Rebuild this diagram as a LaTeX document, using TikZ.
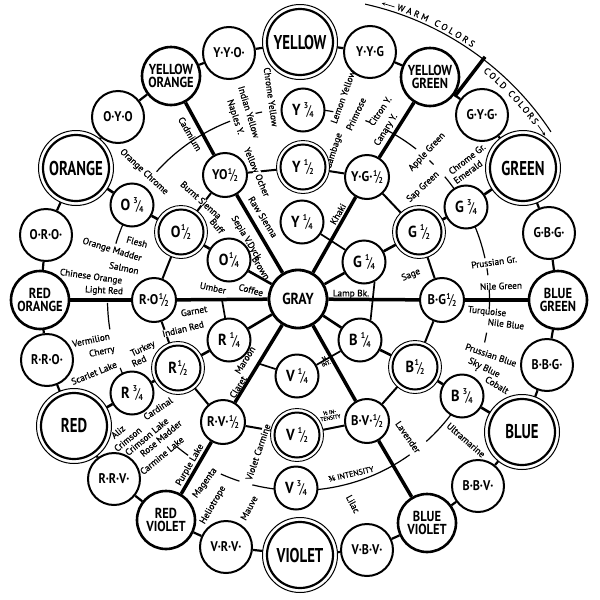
\documentclass[tikz,border=0pt]{standalone}
\usepackage{fontspec}
\setmainfont{PT Sans}
\newfontfamily\capA[FakeStretch=0.74]{PT Sans}
\newfontfamily\capB[FakeStretch=0.86]{PT Sans}
\newfontfamily\capC[FakeStretch=0.9]{PT Sans}
\newfontfamily\labf[FakeBold=0.9]{PT Sans}
\newcommand\myfr[2]{\kern0.5pt\raisebox{0.42em}{\fontsize{8.5}{8.5}\selectfont #1}\kern-1.6pt{\fontsize{14}{14}\selectfont\mdseries /}\kern-1.6pt\raisebox{-0.12em}{\fontsize{8.5}{8.5}\selectfont #2}}
\usetikzlibrary{calc,decorations.text,arrows.meta}
\pgfdeclarelayer{ringl}\pgfdeclarelayer{labl}\pgfdeclarelayer{spkl}
\pgfsetlayers{ringl,labl,spkl,main}
\tikzset{
  prim/.style={circle, draw, line width=2.2pt, fill=white, minimum size=66pt, inner sep=0pt, font=\capA\bfseries\fontsize{20}{20}\selectfont},
  inter/.style={circle, draw, line width=2.6pt, fill=white, minimum size=58pt, inner sep=0pt, align=center, font=\capB\bfseries\fontsize{14.5}{12.5}\selectfont},
  tert/.style={circle, draw, line width=2pt, fill=white, minimum size=52pt, inner sep=0pt, font=\capB\bfseries\fontsize{14}{14}\selectfont},
  grayc/.style={circle, draw, line width=2.8pt, fill=white, minimum size=58pt, inner sep=0pt, font=\capB\bfseries\fontsize{16}{16}\selectfont},
  halfc/.style={circle, draw, line width=2pt, fill=white, minimum size=44pt, inner sep=0pt, font=\capC\bfseries\fontsize{14}{14}\selectfont},
  qtr/.style={circle, draw, line width=2pt, fill=white, minimum size=43pt, inner sep=0pt, font=\capC\bfseries\fontsize{16}{16}\selectfont},
  dbl/.style={circle, draw, line width=2pt, fill=white, minimum size=45pt, inner sep=0pt, font=\capC\bfseries\fontsize{16}{16}\selectfont},
  chain/.style={line width=2.2pt},
  spoke/.style={line width=3.5pt},
  radl/.style={line width=2.6pt},
  hring/.style={line width=2pt},
  qring/.style={line width=1.7pt},
  tring/.style={line width=1.2pt},
  lab/.style={font=\labf\fontsize{9.3}{10}\selectfont, inner sep=0.3pt},
  labw/.style={lab, fill=white},
  tiny/.style={font=\labf\fontsize{5.5}{5.5}\selectfont, inner sep=0.3pt, align=center},
}
\begin{document}
\begin{tikzpicture}[x=1pt,y=-1pt]
\useasboundingbox (0,0) rectangle (600,600);
\coordinate (c0) at (300,298);
\coordinate (c3) at (298.5,299.5);
% ---------- outer ring ----------
\node[prim] (Y) at (300,42) {YELLOW};
\node[tert] (YYG) at (370,52) {Y·Y·G};
\node[inter] (YG) at (430,77) {YELLOW\\GREEN};
\node[tert] (GYG) at (482,115) {G·Y·G·};
\node[prim] (G) at (523,168) {GREEN};
\node[tert] (GBG) at (549,233) {G·B·G·};
\node[inter] (BG) at (558,300) {BLUE\\GREEN};
\node[tert] (BBG) at (547,365) {B·B·G·};
\node[prim] (B) at (522,432) {BLUE};
\node[tert] (BBV) at (478,486) {B·B·V·};
\node[inter] (BV) at (427,523) {BLUE\\VIOLET};
\node[tert] (VBV) at (367,550) {V·B·V·};
\node[prim] (V) at (300,555) {VIOLET};
\node[tert] (VRV) at (226,547) {V·R·V·};
\node[inter] (RV) at (166,520) {RED\\VIOLET};
\node[tert] (RRV) at (114,479) {R·R·V·};
\node[prim] (R) at (74,426) {RED};
\node[tert] (RRO) at (47,360) {R·R·O·};
\node[inter] (RO) at (40,300) {RED\\ORANGE};
\node[tert] (ORO) at (46,235) {O·R·O·};
\node[prim] (O) at (76,168) {ORANGE};
\node[tert] (OYO) at (118,117) {O·Y·O};
\node[inter] (YO) at (171,76) {YELLOW\\ORANGE};
\node[tert] (YYO) at (229,53) {Y·Y·O·};
% ---------- inner ----------
\node[grayc] (GRAY) at (298,299) {GRAY};
\node[halfc] (YOh) at (225,175) {YO\myfr12};
\node[halfc] (YGh) at (367,177) {Y·G·\myfr12};
\node[halfc] (BGh) at (442,300) {B·G\myfr12};
\node[halfc] (BVh) at (367,421) {B·V·\myfr12};
\node[halfc] (RVh) at (223,422) {R·V·\myfr12};
\node[halfc] (ROh) at (154,300) {R·O\myfr12};
\node[qtr] (Y34) at (303,110) {Y\,\myfr34};
\node[dbl] (Y12) at (303,167) {Y\,\myfr12};
\node[qtr] (Y14) at (302,222) {Y\,\myfr14};
\node[qtr] (G34) at (466,207) {G\,\myfr34};
\node[dbl] (G12) at (419,232) {G\,\myfr12};
\node[qtr] (G14) at (364,262) {G\,\myfr14};
\node[qtr] (B34) at (462,396) {B\,\myfr34};
\node[dbl] (B12) at (415,367) {B\myfr12};
\node[qtr] (B14) at (360,340) {B\,\myfr14};
\node[qtr] (V34) at (296,488) {V\,\myfr34};
\node[dbl] (V12) at (297,435) {V\,\myfr12};
\node[qtr] (V14) at (297,376) {V\,\myfr14};
\node[qtr] (R34) at (132,393) {R\,\myfr34};
\node[dbl] (R12) at (178,368) {R\myfr12};
\node[qtr] (R14) at (229,340) {R\,\myfr14};
\node[qtr] (O34) at (132,205) {O\,\myfr34};
\node[dbl] (O12) at (181,232) {O\myfr12};
\node[qtr] (O14) at (229,260) {O\myfr14};
\coordinate (vq) at (260,364);
\coordinate (umb) at (222,300);
\coordinate (dv1) at ($(c0)+(52.5:254pt)$);
\coordinate (dv2) at ($(c0)+(52.5:304pt)$);
% ---------- thin lines ----------
\begin{pgfonlayer}{ringl}
\foreach \a/\b in {Y/YYG,YYG/YG,YG/GYG,GYG/G,G/GBG,GBG/BG,BG/BBG,BBG/B,B/BBV,BBV/BV,BV/VBV,VBV/V,V/VRV,VRV/RV,RV/RRV,RRV/R,R/RRO,RRO/RO,RO/ORO,ORO/O,O/OYO,OYO/YO,YO/YYO,YYO/Y}
  \draw[chain] (\a) -- (\b);
\foreach \a/\b in {YOh/Y12,Y12/YGh,YGh/G12,G12/BGh,BGh/B12,B12/BVh,BVh/V12,V12/RVh,RVh/R12,R12/ROh,ROh/O12,O12/YOh}
  \draw[hring] (\a) -- (\b);
\draw[qring] (Y14) -- (G14);
\draw[qring] (G14.-62) -- (B14.62);
\draw[qring] (B14) -- (V14);
\draw[qring] (V14) -- (vq);
\draw[qring] (R14) -- (umb);
\foreach \a/\b in {138/111,103/101,85/79.5,69.5/68,62/52,46.7/45,40/33,24/12.5,9.4/7.3,3/-3,-10/-13,-21.5/-22,-37/-48,-54.4/-86,-95/-104,-108/-114,-125.3/-129.7,-155/-159,-171/-179,163/155}
  \draw[tring] ($(c3)+(\a:191pt)$) arc[start angle=\a, end angle=\b, radius=191pt];
% warm / cold
\draw[line width=1.1pt] ($(c0)+(77.5:301pt)$) arc[start angle=77.5, end angle=33.5, radius=301pt];
\path[decorate, decoration={text along path, text={|\labf\fontsize{9}{9}\selectfont|WARM COLORS}, text align={fit to path}, raise=3pt}]
  ($(c0)+(71.5:301pt)$) arc[start angle=71.5, end angle=55.5, radius=301pt];
\path[decorate, decoration={text along path, text={|\labf\fontsize{9}{9}\selectfont|COLD COLORS}, text align={fit to path}, raise=-10pt}]
  ($(c0)+(51:301pt)$) arc[start angle=51, end angle=36.5, radius=301pt];
\draw[-{Stealth[length=3.5pt,width=3pt]}, line width=0.7pt] ($(c0)+(72:306pt)$) arc[start angle=72, end angle=74.5, radius=306pt];
\draw[-{Stealth[length=3.5pt,width=3pt]}, line width=0.7pt] ($(c0)+(36:294pt)$) arc[start angle=36, end angle=33.5, radius=294pt];
\end{pgfonlayer}
% ---------- labels ----------
\begin{pgfonlayer}{labl}
\node[lab, rotate=-60] (lcad) at (190,134) {Cadmium};
\node[lab, rotate=-43] (lorc) at (144,172) {Orange Chrome};
\node[lab, rotate=-72] (lnap) at (235,117) {Naples Y.};
\node[lab, rotate=-73] (lind) at (249,112) {Indian Yellow};
\node[lab, rotate=-82] (lchy) at (271,97) {Chrome Yellow};
\node[labw, rotate=-67] (locr) at (257,172) {Yellow Ocher};
\node[lab, rotate=-58] (lraw) at (263,217) {Raw Sienna};
\node[labw, rotate=-42] (lbur) at (201,200) {Burnt Sienna};
\node[lab, rotate=-50] (lbuf) at (217,226) {Buff};
\node[lab, rotate=-59] (lsep) at (246,238) {Sepia V.Dyck};
\node[lab, rotate=-58] (lbro) at (261,268) {Brown};
\node[lab, rotate=-15] (lcof) at (251,290) {Coffee};
\node[lab, rotate=-12] (lumb) at (213,288) {Umber};
\node[lab, rotate=-15] (lfle) at (137,242) {Flesh};
\node[lab, rotate=-17] (lmad) at (112,250) {Orange Madder};
\node[lab, rotate=-12] (lsal) at (124,268) {Salmon};
\node[lab, rotate=-8] (lchi) at (91,277) {Chinese Orange};
\node[lab, rotate=-3] (llig) at (104,291) {Light Red};
\node[lab, rotate=10] (lgar) at (194,311) {Garnet};
\node[labw, rotate=14] (lire) at (183,329) {Indian Red};
\node[lab, rotate=12] (lver) at (91,340) {Vermilion};
\node[lab, rotate=12] (lche) at (102,352) {Cherry};
\node[lab, rotate=22] (lsca) at (94,373) {Scarlet Lake};
\node[lab, rotate=25] (ltur) at (143,349) {Turkey};
\node[lab, rotate=25] (lred) at (139,361) {Red};
\node[lab, rotate=58] (lmar) at (245,360) {Maroon};
\node[lab, rotate=58] (lcla) at (238,387) {Claret};
\node[lab, rotate=34, anchor=west] (lcar) at (144,418) {Cardinal};
\node[lab, rotate=40, anchor=west] (lali) at (112,437) {Aliz};
\node[lab, rotate=40, anchor=west] (lcri) at (115,450) {Crimson};
\node[lab, rotate=40, anchor=west] (lcrl) at (126,454) {Crimson Lake};
\node[lab, rotate=40, anchor=west] (lros) at (141,455) {Rose Madder};
\node[lab, rotate=40, anchor=west] (lcml) at (141,473) {Carmine Lake};
\node[lab, rotate=60] (lpur) at (190,465) {Purple Lake};
\node[lab, rotate=54] (lmag) at (205,483) {Magenta};
\node[lab, rotate=60] (lhel) at (213,505) {Heliotrope};
\node[lab, rotate=62] (lmau) at (249,508) {Mauve};
\node[labw, rotate=71] (lvca) at (258,452) {Violet Carmine};
\node[tiny, rotate=22] (lqi) at (325,361) {¼\\INT.};
\node[tiny, rotate=10] (lhi) at (330,415) {½ IN-\\TENSITY};
\node[lab, rotate=-55] (llav) at (408,437) {Lavender};
\node[lab, rotate=-41] (lult) at (466,440) {Ultramarine};
\node[font=\labf\fontsize{8}{8}\selectfont, inner sep=0.3pt, rotate=13] (lqin) at (351,474) {¾ INTENSITY};
\node[lab, rotate=-62] (llil) at (353,504) {Lilac};
\node[lab, rotate=-31] (lcob) at (497,385) {Cobalt};
\node[lab, rotate=-26] (lsky) at (484,368) {Sky Blue};
\node[lab, rotate=-19] (lpbl) at (491,355) {Prussian Blue};
\node[lab, rotate=-7] (lnbl) at (506,324) {Nile Blue};
\node[lab, rotate=-6] (ltrq) at (487,312) {Turquoise};
\node[lab, rotate=2] (lngr) at (501,286) {Nile Green};
\node[lab, rotate=8] (lpgr) at (494,262) {Prussian Gr.};
\node[lab, rotate=23] (lsag) at (411,275) {Sage};
\node[lab] (llam) at (351,294) {Lamp Bk.};
\node[lab, rotate=70] (llem) at (343,97) {Lemon Yellow};
\node[lab, rotate=72] (lgam) at (334,151) {Gambage};
\node[lab, rotate=65] (lpri) at (356,114) {Primrose};
\node[lab, rotate=56] (lcit) at (380,111) {Citron Y.};
\node[lab, rotate=58] (lcan) at (386,130) {Canary Y.};
\node[lab, rotate=60] (lkha) at (338,214) {Khaki};
\node[lab, rotate=47] (lapp) at (427,152) {Apple Green};
\node[lab, rotate=43] (lsap) at (423,187) {Sap Green};
\node[lab, rotate=38] (lcgr) at (467,159) {Chrome Gr.};
\node[lab, rotate=36] (leme) at (468,172) {Emerald};
\end{pgfonlayer}
% ---------- thick lines ----------
\begin{pgfonlayer}{spkl}
\foreach \h/\o in {YOh/YO,YGh/YG,BGh/BG,BVh/BV,RVh/RV,ROh/RO}{
  \draw[spoke] (GRAY) -- (\h);
  \draw[spoke] (\h) -- (\o);
}
\foreach \a/\b in {GRAY/O14,GRAY/R14,GRAY/G14,GRAY/B14,O34/O12,O12/O14,R34/R12,R12/R14,G34/G12,G12/G14,B34/B12,B12/B14,O34/O,R34/R,G34/G,B34/B}
  \draw[radl] (\a) -- (\b);
\draw[spoke] (dv1) -- (dv2);
\foreach \n in {Y,G,B,V,R,O}
  \draw[line width=1pt, fill=white] (\n.center) circle[radius=37.5pt];
\foreach \n in {Y12,G12,B12,V12,R12,O12}
  \draw[line width=0.9pt, fill=white] (\n.center) circle[radius=26.5pt];
\end{pgfonlayer}
\end{tikzpicture}
\end{document}
